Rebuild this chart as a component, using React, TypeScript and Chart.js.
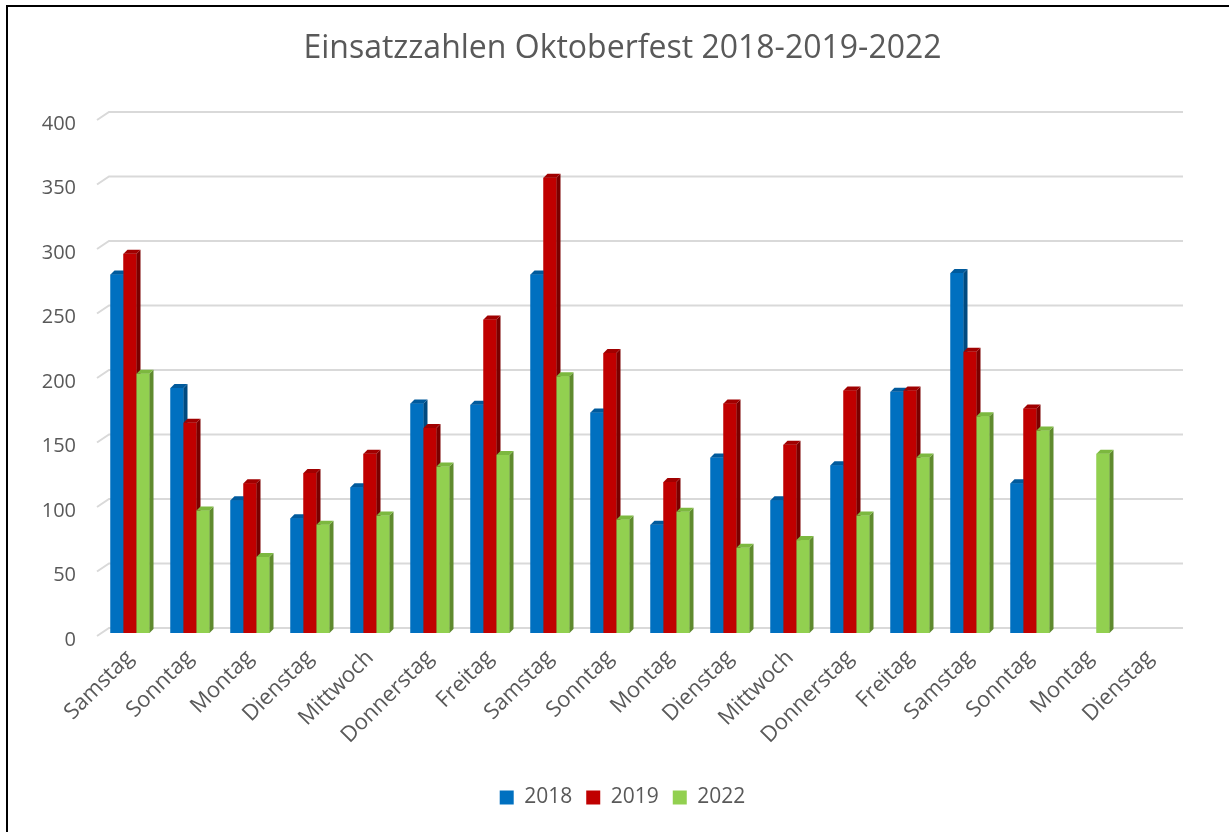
import React, { useEffect, useRef } from "react";
import { Chart, registerables } from "chart.js";

Chart.register(...registerables);

const categories = [
  "Samstag", "Sonntag", "Montag", "Dienstag", "Mittwoch", "Donnerstag", "Freitag",
  "Samstag", "Sonntag", "Montag", "Dienstag", "Mittwoch", "Donnerstag", "Freitag",
  "Samstag", "Sonntag", "Montag", "Dienstag",
];

const values2018 = [278, 190, 103, 89, 113, 178, 177, 278, 171, 84, 136, 103, 130, 187, 279, 116, null, null];
const values2019 = [294, 163, 116, 124, 139, 159, 243, 353, 217, 117, 178, 146, 188, 188, 218, 174, null, null];
const values2022 = [201, 95, 59, 84, 91, 129, 138, 199, 88, 94, 66, 72, 91, 136, 168, 157, 139, null];

const seriesLabels = ["2018", "2019", "2022"];
const yTicks = [0, 50, 100, 150, 200, 250, 300, 350, 400];

const FRONT = ["#0070C0", "#C00000", "#92D050"];
const SIDE = ["#004a80", "#7a0000", "#5f8a2e"];
const TOP = ["#005a9c", "#a00000", "#7cb83f"];
const TEXT = "#595959";
const FONT = "'Open Sans'";
const DEPTH = 4;

const threeDPlugin = {
  id: "threeD",
  beforeDatasetsDraw(chart: any) {
    const ctx = chart.ctx;
    const ys = chart.scales.y;
    const area = chart.chartArea;
    ctx.save();
    ctx.strokeStyle = "#d9d9d9";
    ctx.lineWidth = 2;
    yTicks.forEach((v) => {
      const y = ys.getPixelForValue(v);
      ctx.beginPath();
      ctx.moveTo(area.left - 3, y + 3);
      ctx.lineTo(area.left + 9, y - 5);
      ctx.lineTo(area.right + 3, y - 5);
      ctx.stroke();
    });
    ctx.restore();
  },
  afterDatasetsDraw(chart: any) {
    const ctx = chart.ctx;
    ctx.save();
    chart.data.datasets.forEach((ds: any, di: number) => {
      const meta = chart.getDatasetMeta(di);
      meta.data.forEach((bar: any, i: number) => {
        const v = ds.data[i];
        if (v == null) return;
        const { x, y, base, width } = bar.getProps(["x", "y", "base", "width"], true);
        const l = x - width / 2;
        const r = x + width / 2;
        ctx.fillStyle = FRONT[di];
        ctx.fillRect(l, y, width, base - y);
        ctx.fillStyle = SIDE[di];
        ctx.beginPath();
        ctx.moveTo(r, y);
        ctx.lineTo(r + DEPTH, y - DEPTH);
        ctx.lineTo(r + DEPTH, base - DEPTH);
        ctx.lineTo(r, base);
        ctx.closePath();
        ctx.fill();
        ctx.fillStyle = TOP[di];
        ctx.beginPath();
        ctx.moveTo(l, y);
        ctx.lineTo(l + DEPTH, y - DEPTH);
        ctx.lineTo(r + DEPTH, y - DEPTH);
        ctx.lineTo(r, y);
        ctx.closePath();
        ctx.fill();
      });
    });
    ctx.restore();
  },
  afterDraw(chart: any) {
    const ctx = chart.ctx;
    ctx.save();
    ctx.strokeStyle = "#000";
    ctx.lineWidth = 2;
    ctx.beginPath();
    ctx.moveTo(7, chart.height);
    ctx.lineTo(7, 6);
    ctx.lineTo(chart.width, 6);
    ctx.stroke();
    ctx.restore();
  },
};

export default function App() {
  const ref = useRef<HTMLCanvasElement | null>(null);
  useEffect(() => {
    if (!ref.current) return;
    Chart.defaults.font.family = FONT;
    const chart = new Chart(ref.current, {
      type: "bar",
      data: {
        labels: categories,
        datasets: [
          { label: seriesLabels[0], data: values2018, backgroundColor: FRONT[0] },
          { label: seriesLabels[1], data: values2019, backgroundColor: FRONT[1] },
          { label: seriesLabels[2], data: values2022, backgroundColor: FRONT[2] },
        ],
      },
      options: {
        animation: false,
        responsive: false,
        maintainAspectRatio: false,
        datasets: { bar: { categoryPercentage: 0.65, barPercentage: 1 } },
        layout: { padding: { left: 16, right: 0, top: 0, bottom: 14 } },
        plugins: {
          title: {
            display: true,
            text: "Einsatzzahlen Oktoberfest 2018-2019-2022",
            color: TEXT,
            font: { size: 32, weight: "normal", family: FONT },
            padding: { top: 30, bottom: 48.6 },
          },
          legend: {
            position: "bottom",
            labels: {
              color: TEXT,
              font: { size: 21, family: FONT },
              boxWidth: 14,
              boxHeight: 14,
              padding: 14,
            },
          },
          tooltip: { enabled: false },
        },
        scales: {
          x: {
            grid: { display: false },
            border: { display: false },
            ticks: {
              color: TEXT,
              font: { size: 22, family: FONT },
              minRotation: 45,
              maxRotation: 45,
              autoSkip: false,
              padding: 4,
            },
            afterFit(scale: any) {
              scale.height = 140;
            },
          },
          y: {
            min: 0,
            max: 400,
            grid: { display: false, drawTicks: false },
            border: { display: false },
            ticks: {
              stepSize: 50,
              color: TEXT,
              font: { size: 20, family: FONT },
              padding: 24,
              labelOffset: 7,
            },
            afterFit(scale: any) {
              scale.width = 84;
            },
          },
          yRight: {
            type: "linear",
            position: "right",
            display: true,
            grid: { display: false },
            border: { display: false },
            ticks: { display: false },
            afterFit(scale: any) {
              scale.width = 49;
            },
          },
        },
      },
      plugins: [threeDPlugin],
    });
    return () => chart.destroy();
  }, []);
  return (
    <div style={{ position: "fixed", left: 0, top: 0, width: 1229, height: 832, background: "#fff" }}>
      <canvas ref={ref} width={1229} height={832} style={{ display: "block" }} />
    </div>
  );
}
